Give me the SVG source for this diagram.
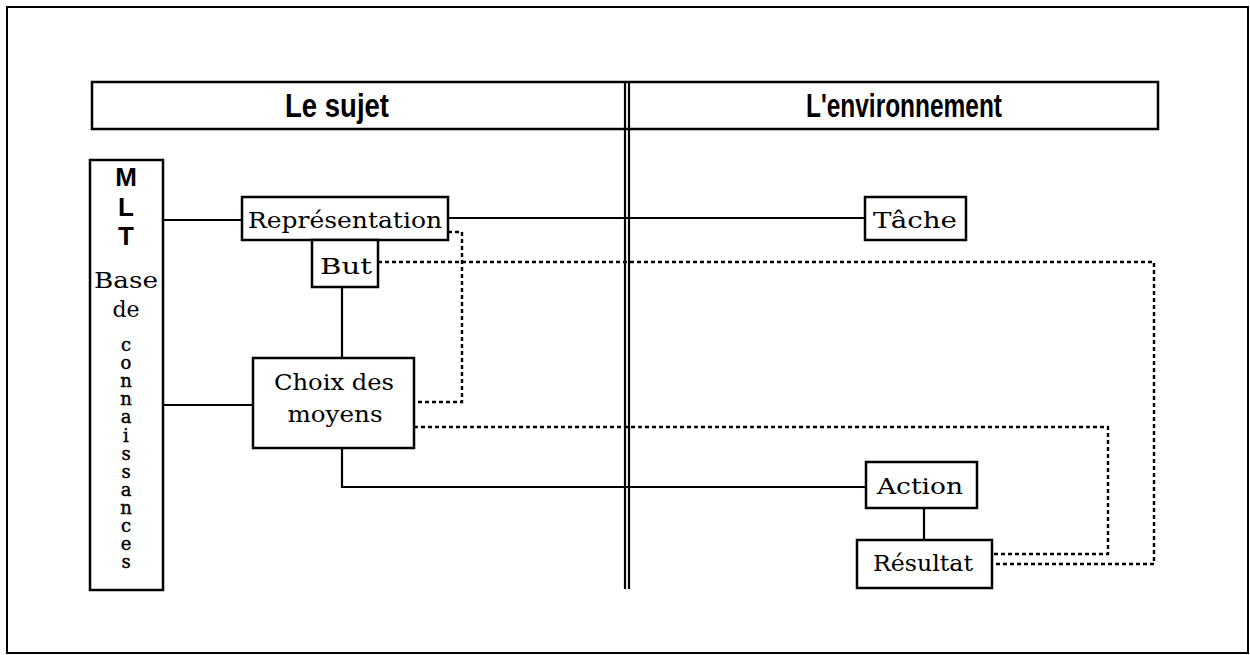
<svg xmlns="http://www.w3.org/2000/svg" width="1250" height="655" viewBox="0 0 1250 655">
<style>
.box{fill:#fff;stroke:#000;stroke-width:2.5}
.frame{fill:none;stroke:#000;stroke-width:2}
.solid{fill:none;stroke:#000;stroke-width:2.2}
.dash{fill:none;stroke:#000;stroke-width:2.4;stroke-dasharray:4 3}
.hdr{font-family:"Liberation Sans",Arial,sans-serif;font-weight:bold;font-size:33px;fill:#000}
.lbl{font-family:"DejaVu Serif","Liberation Serif",serif;font-size:22px;fill:#000}
.mlt{font-family:"Liberation Sans",Arial,sans-serif;font-weight:bold;font-size:26px;fill:#000}
.vert{font-family:"DejaVu Serif","Liberation Serif",serif;font-size:18px;fill:#000;stroke:#000;stroke-width:0.4;writing-mode:vertical-rl;text-orientation:upright;letter-spacing:-2.9px}
</style>
<rect x="7" y="7" width="1241" height="646" class="frame"/>
<g id="header">
<rect x="92" y="82" width="1066" height="47" class="box"/>
<text x="337" y="117" class="hdr" text-anchor="middle" textLength="104" lengthAdjust="spacingAndGlyphs">Le sujet</text>
<text x="904" y="117" class="hdr" text-anchor="middle" textLength="196" lengthAdjust="spacingAndGlyphs">L'environnement</text>
</g>
<g id="divider">
<line x1="625" y1="82" x2="625" y2="589" class="solid"/>
<line x1="629" y1="82" x2="629" y2="589" class="solid"/>
</g>
<g id="connectors">
<line x1="163" y1="220" x2="242" y2="220" class="solid"/>
<line x1="163" y1="405" x2="253" y2="405" class="solid"/>
<line x1="448" y1="218" x2="865" y2="218" class="solid"/>
<line x1="342" y1="287" x2="342" y2="358" class="solid"/>
<polyline points="342,448 342,487 866,487" class="solid"/>
<line x1="924" y1="508" x2="924" y2="540" class="solid"/>
<polyline points="448,232 462,232 462,402 414,402" class="dash"/>
<polyline points="378,262 1154,262 1154,564 992,564" class="dash"/>
<polyline points="414,427 1108,427 1108,554 992,554" class="dash"/>
</g>
<g id="mlt">
<rect x="90" y="160" width="73" height="430" class="box"/>
<text class="mlt" text-anchor="middle" x="126" y="186">M</text>
<text class="mlt" text-anchor="middle" x="126" y="216">L</text>
<text class="mlt" text-anchor="middle" x="126" y="245">T</text>
<text class="lbl" text-anchor="middle" x="126" y="288" textLength="64" lengthAdjust="spacingAndGlyphs">Base</text>
<text class="lbl" text-anchor="middle" x="126" y="317">de</text>
<text class="vert" x="126" y="334">connaissances</text>
</g>
<g id="representation">
<rect x="242" y="197" width="206" height="43" class="box"/>
<text class="lbl" x="345" y="228" text-anchor="middle" textLength="194" lengthAdjust="spacingAndGlyphs">Représentation</text>
</g>
<g id="but">
<rect x="312" y="240" width="66" height="47" class="box"/>
<text class="lbl" x="346" y="274" text-anchor="middle" textLength="52" lengthAdjust="spacingAndGlyphs">But</text>
</g>
<g id="choix">
<rect x="253" y="358" width="161" height="90" class="box"/>
<text class="lbl" x="334" y="390" text-anchor="middle" textLength="120" lengthAdjust="spacingAndGlyphs">Choix des</text>
<text class="lbl" x="335" y="422" text-anchor="middle" textLength="95" lengthAdjust="spacingAndGlyphs">moyens</text>
</g>
<g id="tache">
<rect x="865" y="197" width="101" height="43" class="box"/>
<text class="lbl" x="915" y="228" text-anchor="middle" textLength="84" lengthAdjust="spacingAndGlyphs">Tâche</text>
</g>
<g id="action">
<rect x="866" y="462" width="111" height="46" class="box"/>
<text class="lbl" x="920" y="494" text-anchor="middle" textLength="86" lengthAdjust="spacingAndGlyphs">Action</text>
</g>
<g id="resultat">
<rect x="857" y="540" width="135" height="48" class="box"/>
<text class="lbl" x="923" y="571" text-anchor="middle" textLength="100" lengthAdjust="spacingAndGlyphs">Résultat</text>
</g>
</svg>
